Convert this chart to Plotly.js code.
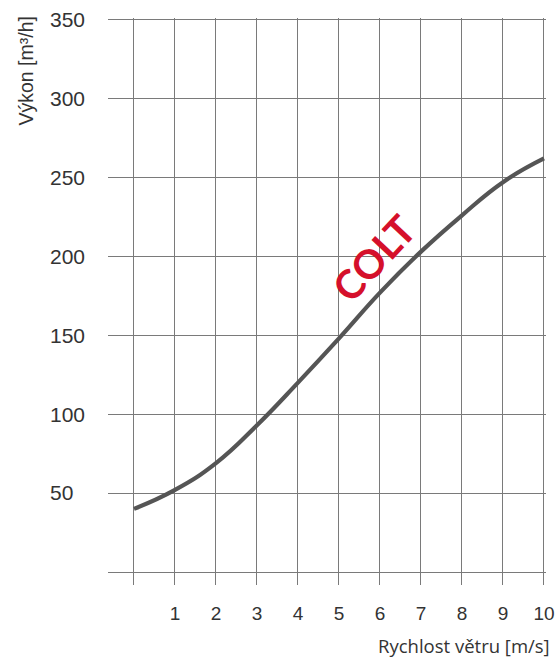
<!DOCTYPE html>
<html>
<head>
<meta charset="utf-8">
<script src="https://cdn.plot.ly/plotly-3.0.1.min.js"></script>
<style>html,body{margin:0;padding:0;background:#fff;}#chart{width:556px;height:658px;}</style>
</head>
<body>
<div id="chart"></div>
<script>
// Wind speed [m/s]
const windSpeed = [0, 1, 2, 3, 4, 5, 6, 7, 8, 9, 10];
// Output [m3/h]
const output = [40, 52, 69, 93, 120, 148, 177, 203, 226, 247, 262];
const xTickVals = [0, 1, 2, 3, 4, 5, 6, 7, 8, 9, 10];
const xTickText = ['', '1', '2', '3', '4', '5', '6', '7', '8', '9', '10'];
const yTickVals = [0, 50, 100, 150, 200, 250, 300, 350];
const yTickText = ['', '50\u2007', '100', '150', '200', '250', '300', '350'];
const xTitle = 'Rychlost větru [m/s]';
const yTitle = 'Výkon [m³/h]';
const brand = 'COLT';

const grid = '#7a7a7a';

const trace = {
  x: windSpeed, y: output, type: 'scatter', mode: 'lines',
  line: {color: '#555555', width: 4.2, shape: 'spline', smoothing: 1.3},
  hoverinfo: 'skip'
};

const layout = {
  width: 556, height: 658,
  margin: {l: 108, r: 10, t: 18, b: 86},
  paper_bgcolor: '#fff', plot_bgcolor: '#fff',
  showlegend: false,
  xaxis: {
    range: [-0.634, 10.049],
    tickmode: 'array', tickvals: xTickVals, ticktext: xTickText,
    showgrid: true, gridcolor: grid, gridwidth: 1,
    zeroline: false,
    showline: true, linecolor: grid, linewidth: 1,
    ticks: 'outside', ticklen: 12, tickcolor: grid, tickwidth: 1,
    ticklabelstandoff: 12,
    tickfont: {family: 'Liberation Sans, Arial, sans-serif', size: 19, color: '#333'},
    fixedrange: true
  },
  yaxis: {
    range: [0, 351],
    tickmode: 'array', tickvals: yTickVals, ticktext: yTickText,
    showgrid: true, gridcolor: grid, gridwidth: 1,
    zeroline: false, showline: false,
    ticks: '',
    ticklabelstandoff: 22,
    tickfont: {family: 'Liberation Sans, Arial, sans-serif', size: 21, color: '#333'},
    fixedrange: true
  },
  annotations: [
    {text: yTitle, xref: 'paper', yref: 'paper', x: 0, y: 1, xanchor: 'center', yanchor: 'middle',
     xshift: -83, yshift: -53.5, textangle: -90, showarrow: false,
     font: {family: 'Liberation Sans, Arial, sans-serif', size: 19.5, color: '#333'}},
    {text: xTitle, xref: 'paper', yref: 'paper', x: 1, y: 0, xanchor: 'right', yanchor: 'middle',
     xshift: 6, yshift: -73, showarrow: false,
     font: {family: 'Open Sans, sans-serif', size: 18.5, color: '#333'}},
    {text: '<b>' + brand + '</b>', xref: 'x', yref: 'y', x: 5.85, y: 199, xanchor: 'center', yanchor: 'middle',
     textangle: -47, showarrow: false,
     font: {family: 'Lato, Liberation Sans, sans-serif', size: 40, color: '#d5102b'}}
  ]
};

Plotly.newPlot('chart', [trace], layout, {displayModeBar: false, staticPlot: true});
</script>
</body>
</html>
